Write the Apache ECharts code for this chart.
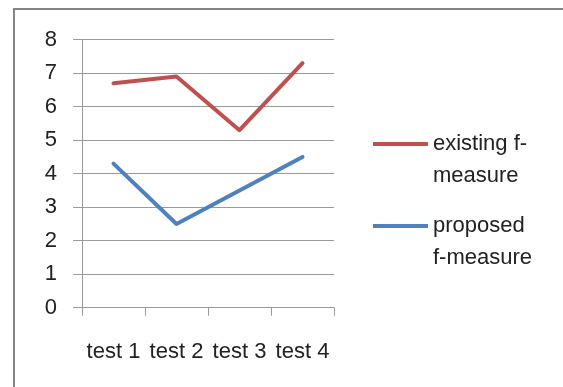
<!DOCTYPE html>
<html>
<head>
<meta charset="utf-8">
<script src="https://cdn.jsdelivr.net/npm/echarts@6/dist/echarts.min.js"></script>
<style>
html,body{margin:0;padding:0;background:#fff;}
#chart{width:563px;height:387px;}
</style>
</head>
<body>
<div id="chart"></div>
<script>
var categories = ['test 1', 'test 2', 'test 3', 'test 4'];
var existingValues = [6.7, 6.9, 5.3, 7.3];
var proposedValues = [4.3, 2.5, 3.5, 4.5];
var yTicks = [0, 1, 2, 3, 4, 5, 6, 7, 8];
var seriesNames = ['existing f-measure', 'proposed f-measure'];
var legendLabels = {'existing f-measure': ['existing f-', 'measure'], 'proposed f-measure': ['proposed', 'f-measure']};

var FONT = 'Liberation Sans, Arial, sans-serif';
var GRID = '#9a9a9a';
var chart = echarts.init(document.getElementById('chart'), null, {renderer: 'canvas'});

function legendCfg(name, top) {
  return {
    data: [name],
    left: 373,
    top: top,
    orient: 'vertical',
    padding: 0,
    icon: 'rect',
    itemWidth: 55,
    itemHeight: 4,
    formatter: function (n) { return '{e| }\n' + legendLabels[n].join('\n'); },
    textStyle: {fontFamily: FONT, fontSize: 22, color: '#222', lineHeight: 32,
      rich: {e: {fontSize: 22, lineHeight: 32}}}
  };
}

chart.setOption({
  animation: false,
  backgroundColor: '#fff',
  graphic: [{
    type: 'rect', shape: {x: 14, y: 9, width: 600, height: 420},
    style: {fill: 'none', stroke: '#858585', lineWidth: 2}, silent: true
  }],
  grid: {left: 82, right: 229, top: 39.7, bottom: 79.3, containLabel: false},
  legend: [legendCfg(seriesNames[0], 96), legendCfg(seriesNames[1], 178)],
  xAxis: {
    type: 'category',
    data: categories,
    boundaryGap: true,
    axisLine: {show: true, lineStyle: {color: GRID, width: 1}},
    axisTick: {show: true, length: 8, alignWithLabel: false, lineStyle: {color: GRID, width: 1}},
    axisLabel: {fontFamily: FONT, fontSize: 22, color: '#222', margin: 33, interval: 0},
    splitLine: {show: false}
  },
  yAxis: {
    type: 'value',
    min: yTicks[0], max: yTicks[yTicks.length - 1], interval: 1,
    axisLine: {show: true, lineStyle: {color: GRID, width: 1}},
    axisTick: {show: true, length: 9, lineStyle: {color: GRID, width: 1}},
    axisLabel: {fontFamily: FONT, fontSize: 22, color: '#222', margin: 25},
    splitLine: {show: true, lineStyle: {color: GRID, width: 1}}
  },
  series: [
    {name: seriesNames[0], type: 'line', data: existingValues, symbol: 'none',
     lineStyle: {color: '#C0504D', width: 4, cap: 'round', join: 'round'}, itemStyle: {color: '#C0504D'}},
    {name: seriesNames[1], type: 'line', data: proposedValues, symbol: 'none',
     lineStyle: {color: '#4F81BD', width: 4, cap: 'round', join: 'round'}, itemStyle: {color: '#4F81BD'}}
  ]
});
</script>
</body>
</html>
